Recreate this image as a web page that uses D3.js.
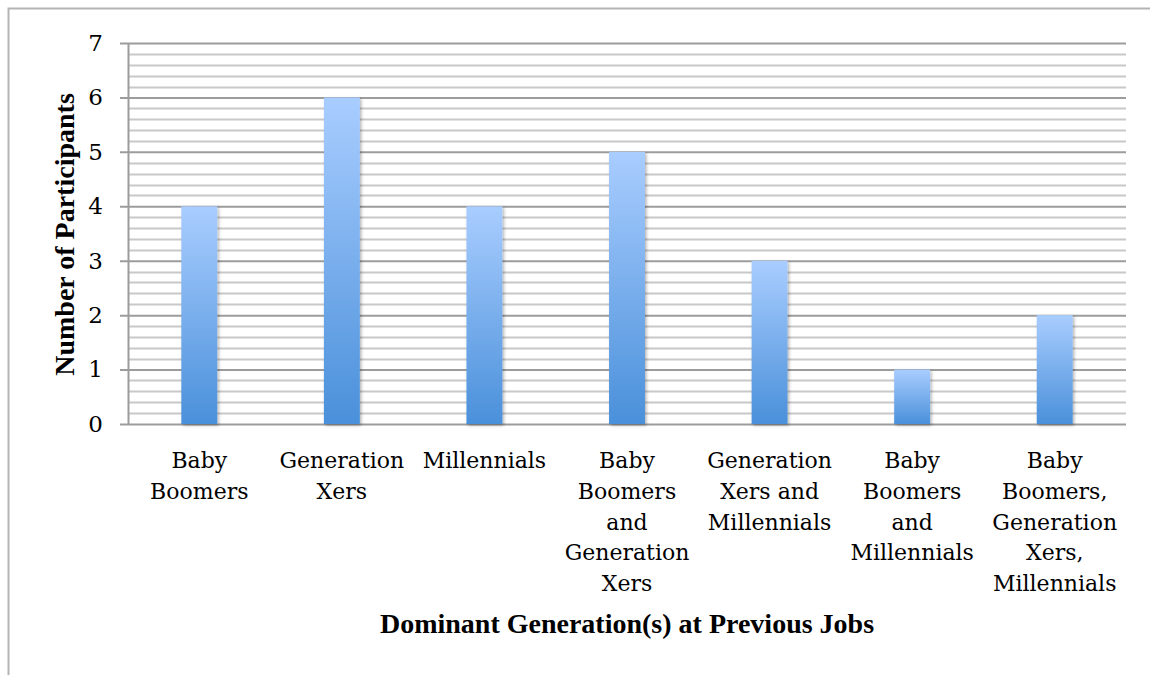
<!DOCTYPE html>
<html>
<head>
<meta charset="utf-8">
<script src="https://cdn.jsdelivr.net/npm/d3@7"></script>
<style>
  html, body { margin: 0; padding: 0; background: #fff; }
  svg { display: block; }
  text { font-family: "DejaVu Serif", serif; fill: #000; }
  .axis-title { font-family: "Liberation Serif", serif; font-weight: bold; }
</style>
</head>
<body>
<svg id="chart" width="1150" height="675"></svg>
<script>
// categories, each already split into the lines shown under the bar
const categories = [
    ["Baby", "Boomers"],
    ["Generation", "Xers"],
    ["Millennials"],
    ["Baby", "Boomers", "and", "Generation", "Xers"],
    ["Generation", "Xers and", "Millennials"],
    ["Baby", "Boomers", "and", "Millennials"],
    ["Baby", "Boomers,", "Generation", "Xers,", "Millennials"]
];
const participants = [4, 6, 4, 5, 3, 1, 2];
const yTicks = [0, 1, 2, 3, 4, 5, 6, 7];
const yTitle = "Number of Participants";
const xTitle = "Dominant Generation(s) at Previous Jobs";

const svg = d3.select("#chart");
const width = 1150, height = 675;
const margin = {top: 43, right: 24, bottom: 251, left: 128};
const plotW = width - margin.left - margin.right;
const plotH = height - margin.top - margin.bottom;

// outer frame, runs off the right and bottom of the picture
svg.append("path")
    .attr("d", "M8.5," + (height + 5) + "V8.5H" + (width + 5))
    .attr("fill", "none")
    .attr("stroke", "#b4b4b4")
    .attr("stroke-width", 2);

const defs = svg.append("defs");
const grad = defs.append("linearGradient")
    .attr("id", "barGrad")
    .attr("x1", 0).attr("y1", 0).attr("x2", 0).attr("y2", 1);
grad.append("stop").attr("offset", "0%").attr("stop-color", "#a9cdff");
grad.append("stop").attr("offset", "100%").attr("stop-color", "#4a90da");

const shadow = defs.append("filter")
    .attr("id", "barShadow")
    .attr("x", "-20%").attr("y", "-5%")
    .attr("width", "150%").attr("height", "120%");
shadow.append("feDropShadow")
    .attr("dx", 1.5).attr("dy", 1.5)
    .attr("stdDeviation", 1.8)
    .attr("flood-color", "#000")
    .attr("flood-opacity", 0.3);

const g = svg.append("g")
    .attr("transform", "translate(" + margin.left + "," + margin.top + ")");

const x = d3.scaleBand()
    .domain(d3.range(categories.length))
    .range([0, plotW])
    .paddingInner(0.748)
    .paddingOuter(0.374);

const y = d3.scaleLinear()
    .domain([0, 7])
    .range([plotH, 0]);

// minor gridlines every 0.2
const minor = d3.range(0, 7.001, 0.2).filter(function(v) {
    return Math.abs(v - Math.round(v)) > 0.01;
});
g.append("g")
    .selectAll("line")
    .data(minor)
    .enter().append("line")
    .attr("x1", 0).attr("x2", plotW)
    .attr("y1", function(d) { return Math.round(y(d)) + 0.5; })
    .attr("y2", function(d) { return Math.round(y(d)) + 0.5; })
    .attr("stroke", "#c8c8c8")
    .attr("stroke-width", 2);

// major gridlines + ticks through the axis generator
const yAxis = d3.axisLeft(y)
    .tickValues(yTicks)
    .tickSize(-plotW)
    .tickPadding(25)
    .tickFormat(d3.format("d"));

const yg = g.append("g").attr("class", "y-axis").call(yAxis);
yg.select(".domain").remove();
yg.selectAll(".tick line")
    .attr("x1", -8)
    .attr("stroke", "#9c9c9c")
    .attr("stroke-width", 2);
yg.selectAll(".tick text")
    .attr("font-size", 23)
    .attr("font-family", "DejaVu Serif")
    .attr("fill", "#000");

// left axis line
g.append("line")
    .attr("x1", 0.5).attr("x2", 0.5)
    .attr("y1", 0).attr("y2", plotH)
    .attr("stroke", "#9c9c9c")
    .attr("stroke-width", 2);

// bars
g.append("g")
    .selectAll("rect")
    .data(participants)
    .enter().append("rect")
    .attr("x", function(d, i) { return x(i); })
    .attr("width", x.bandwidth())
    .attr("y", function(d) { return y(d); })
    .attr("height", function(d) { return plotH - y(d); })
    .attr("fill", "url(#barGrad)")
    .attr("filter", "url(#barShadow)");

// category labels
const labels = g.append("g")
    .selectAll("text")
    .data(categories)
    .enter().append("text")
    .attr("text-anchor", "middle")
    .attr("font-size", 22)
    .attr("transform", function(d, i) {
        return "translate(" + (x(i) + x.bandwidth() / 2) + "," + (plotH + 44) + ")";
    });
labels.selectAll("tspan")
    .data(function(d) { return d; })
    .enter().append("tspan")
    .attr("x", 0)
    .attr("y", function(d, j) { return j * 30.8; })
    .text(function(d) { return d; });

// axis titles
g.append("text")
    .attr("class", "axis-title")
    .attr("text-anchor", "middle")
    .attr("font-size", 28)
    .attr("x", plotW / 2)
    .attr("y", plotH + 209)
    .text(xTitle);

g.append("text")
    .attr("class", "axis-title")
    .attr("text-anchor", "middle")
    .attr("font-size", 28)
    .attr("transform", "translate(" + (-54) + "," + (plotH / 2 + 1) + ") rotate(-90)")
    .text(yTitle);
</script>
</body>
</html>
